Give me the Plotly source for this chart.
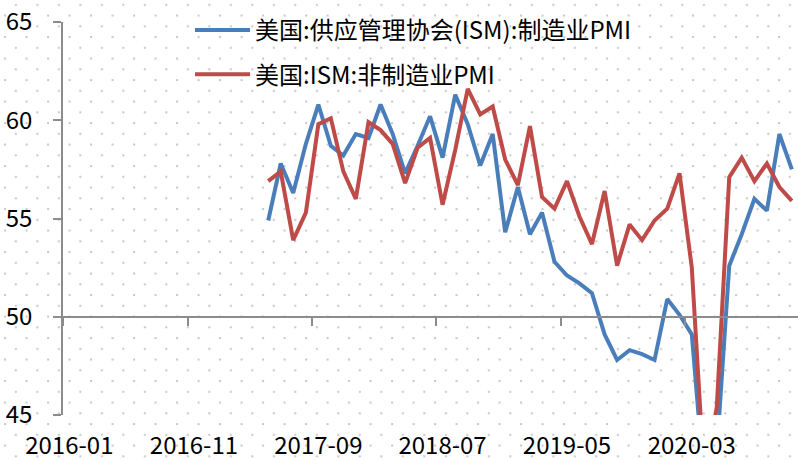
import base64
import pandas as pd
import plotly.graph_objects as go

# Monthly ISM readings, 2017-05 .. 2020-11
months = pd.date_range("2017-05-01", "2020-11-01", freq="MS").strftime("%Y-%m").tolist()

ism_manufacturing = [
    54.9, 57.8, 56.3, 58.8, 60.8, 58.7, 58.2, 59.3,
    59.1, 60.8, 59.3, 57.3, 58.7, 60.2, 58.1, 61.3, 59.8, 57.7, 59.3, 54.3,
    56.6, 54.2, 55.3, 52.8, 52.1, 51.7, 51.2, 49.1, 47.8, 48.3, 48.1, 47.8,
    50.9, 50.1, 49.1, 41.5, 43.1, 52.6, 54.2, 56.0, 55.4, 59.3, 57.5,
]
ism_non_manufacturing = [
    56.9, 57.4, 53.9, 55.3, 59.8, 60.1, 57.4, 56.0,
    59.9, 59.5, 58.8, 56.8, 58.6, 59.1, 55.7, 58.5, 61.6, 60.3, 60.7, 58.0,
    56.7, 59.7, 56.1, 55.5, 56.9, 55.1, 53.7, 56.4, 52.6, 54.7, 53.9, 54.9,
    55.5, 57.3, 52.5, 41.8, 45.4, 57.1, 58.1, 56.9, 57.8, 56.6, 55.9,
]

series_names = ["美国:供应管理协会(ISM):制造业PMI", "美国:ISM:非制造业PMI"]
series_colors = ["#4A7EBB", "#BE4B48"]

tick_labels = ["2016-01", "2016-11", "2017-09", "2018-07", "2019-05", "2020-03"]
x_start, x_end = "2016-01-01", "2020-12-01"
y_range = [45, 65]

W, H = 798, 460
ML, MR, MT, MB = 63, 0, 22, 45
PW, PH = W - ML - MR, H - MT - MB

FONT = "Noto Sans CJK SC"
AXIS_GRAY = "#8C8C8C"


def mid_month(label):
    start = pd.Timestamp(label + "-01")
    end = start + pd.offsets.MonthBegin(1)
    return (start + (end - start) / 2).strftime("%Y-%m-%d %H:%M")


tick_positions = [mid_month(t) for t in tick_labels]

fig = go.Figure()
for i, (name, vals, color) in enumerate(
    zip(series_names, [ism_manufacturing, ism_non_manufacturing], series_colors)
):
    fig.add_trace(go.Scatter(
        x=months, y=vals, name=name, mode="lines",
        xperiod="M1", xperiodalignment="middle",
        line=dict(color=color, width=4),
        legendgroup=f"g{i}",
    ))

# carrier trace for the crossing axis at 50
fig.add_trace(go.Scatter(
    x=months, y=ism_manufacturing, xaxis="x2", mode="lines",
    xperiod="M1", xperiodalignment="middle",
    line=dict(width=0, color="rgba(0,0,0,0)"),
    showlegend=False, hoverinfo="skip",
))

# dotted backdrop pattern over the whole canvas
svg = (
    f'<svg xmlns="http://www.w3.org/2000/svg" width="{W}" height="{H}" viewBox="0 0 {W} {H}">'
    '<defs><pattern id="d" x="0.1" y="-0.15" width="21.5" height="21.5" patternUnits="userSpaceOnUse">'
    '<circle cx="15.75" cy="5" r="1.15" fill="#C4C4C4"/>'
    '<circle cx="5" cy="15.75" r="1.15" fill="#C4C4C4"/>'
    '</pattern></defs>'
    f'<rect width="{W}" height="{H}" fill="url(#d)"/></svg>'
)
svg_uri = "data:image/svg+xml;base64," + base64.b64encode(svg.encode()).decode()

fig.update_layout(
    width=W, height=H, autosize=False,
    margin=dict(l=ML, r=MR, t=MT, b=MB, pad=0),
    paper_bgcolor="white", plot_bgcolor="rgba(0,0,0,0)",
    font=dict(family=FONT, size=24, color="#000000"),
    images=[dict(
        source=svg_uri, xref="paper", yref="paper",
        x=-ML / PW, y=1 + MT / PH, sizex=W / PW, sizey=H / PH,
        xanchor="left", yanchor="top", sizing="stretch", layer="below",
    )],
    xaxis=dict(
        type="date", range=[x_start, x_end], automargin=False,
        tickvals=tick_positions, ticktext=tick_labels,
        ticks="", showline=False, showgrid=False, zeroline=False,
        tickfont=dict(family=FONT, size=24), ticklabelstandoff=14,
    ),
    xaxis2=dict(
        type="date", range=[x_start, x_end], overlaying="x", automargin=False,
        anchor="free", position=(50 - y_range[0]) / (y_range[1] - y_range[0]),
        tick0=x_start, dtick="M10", ticks="outside", ticklen=8,
        tickcolor=AXIS_GRAY, tickwidth=1.5,
        showline=True, linecolor=AXIS_GRAY, linewidth=1.5,
        showticklabels=False, showgrid=False, zeroline=False,
    ),
    yaxis=dict(
        range=y_range, dtick=5, ticks="outside", ticklen=8, automargin=False,
        tickcolor=AXIS_GRAY, tickwidth=1.5,
        showline=True, linecolor=AXIS_GRAY, linewidth=1.5,
        showgrid=False, zeroline=False,
        tickfont=dict(family=FONT, size=24), ticklabelstandoff=16,
    ),
    legend=dict(
        x=(190 - ML) / PW, y=1 + (MT - 8) / PH, xanchor="left", yanchor="top",
        bgcolor="rgba(0,0,0,0)", borderwidth=0,
        font=dict(family=FONT, size=24),
        traceorder="grouped", tracegroupgap=10, itemwidth=55,
    ),
    showlegend=True,
)

fig.write_html("out.html")
